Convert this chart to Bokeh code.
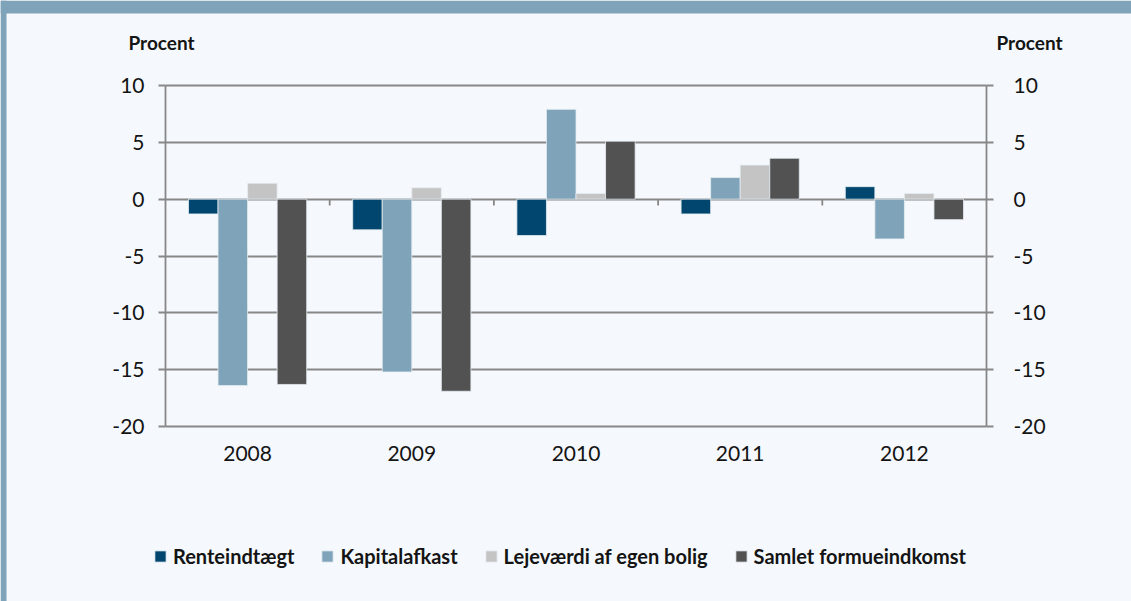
from bokeh.plotting import figure
from bokeh.models import (Range1d, LinearAxis, FixedTicker, Legend, LegendItem,
                          Label, BoxAnnotation, Grid)
from bokeh.embed import file_html
from bokeh.resources import INLINE

# ---- data ----
years = ["2008", "2009", "2010", "2011", "2012"]
renteindtaegt = [-1.3, -2.7, -3.2, -1.3, 1.1]
kapitalafkast = [-16.4, -15.2, 7.9, 1.9, -3.5]
lejevaerdi = [1.4, 1.0, 0.5, 3.0, 0.5]
samlet = [-16.3, -16.9, 5.1, 3.6, -1.8]
series_names = ["Renteindtægt", "Kapitalafkast", "Lejeværdi af egen bolig", "Samlet formueindkomst"]
y_ticks = [-20, -15, -10, -5, 0, 5, 10]
y_label = "Procent"

# ---- style / layout ----
colors = ["#00466e", "#7fa3b8", "#c4c4c4", "#525252"]
bg = "#f5f9fd"
band = "#7fa3b8"
axis_col = "#878787"
txt = "#141414"
font = "Lato"
offsets = [-0.27, -0.09, 0.09, 0.27]
bar_w = 0.18

W, H = 1131, 601
L, R, T, B = 165, 986, 85, 426          # data area in pixels
n = len(years)
ymin, ymax = min(y_ticks), max(y_ticks)
ppx = (R - L) / n
ppy = (B - T) / (ymax - ymin)
x0 = -L / ppx
x1 = n + (W - R) / ppx
y1 = ymax + T / ppy
y0 = ymin - (H - B) / ppy


def dx(px):
    return x0 + px / ppx


def dy(py):
    return y1 - py / ppy


p = figure(width=W, height=H, output_backend="svg", toolbar_location=None,
           x_range=Range1d(x0, x1), y_range=Range1d(y0, y1),
           x_axis_location=None, y_axis_location=None, min_border=0)
p.min_border_left = p.min_border_right = p.min_border_top = p.min_border_bottom = 0
p.background_fill_color = bg
p.border_fill_color = bg
p.outline_line_color = None
for g0 in list(p.xgrid) + list(p.ygrid):
    g0.visible = False

# frame band
p.add_layout(BoxAnnotation(left=dx(0), right=dx(W), top=dy(0), bottom=dy(13),
                           fill_color=band, fill_alpha=1, line_color=None, level="underlay"))
p.add_layout(BoxAnnotation(left=dx(0), right=dx(6), top=dy(0), bottom=dy(H),
                           fill_color=band, fill_alpha=1, line_color=None, level="underlay"))

# horizontal grid lines
if "cross_bounds" in Grid.properties():
    g = Grid(dimension=1, ticker=FixedTicker(ticks=y_ticks), bounds=(ymin, ymax),
             cross_bounds=(0, n), grid_line_color=axis_col, grid_line_width=1.8)
    p.add_layout(g)
else:
    p.segment(x0=[0] * len(y_ticks), y0=y_ticks, x1=[n] * len(y_ticks), y1=y_ticks,
              line_color=axis_col, line_width=1.8)

# category boundary ticks on zero line
bx = [float(k) for k in range(1, n)]
p.segment(x0=bx, y0=[0] * len(bx), x1=bx, y1=[-0.55] * len(bx),
          line_color=axis_col, line_width=1.8)

# bars
all_series = [renteindtaegt, kapitalafkast, lejevaerdi, samlet]
items = []
for j, (name, vals) in enumerate(zip(series_names, all_series)):
    xs = [i + 0.5 + offsets[j] for i in range(n)]
    r = p.vbar(x=xs, top=vals, bottom=0, width=bar_w, fill_color=colors[j],
               line_color="#e6edf3", line_width=0.8)
    items.append(LegendItem(label=name, renderers=[r]))

# x axis (category labels)
xa = LinearAxis(fixed_location=ymin, bounds=(0, n))
xa.ticker = FixedTicker(ticks=[i + 0.5 for i in range(n)])
xa.major_label_overrides = {i + 0.5: y for i, y in enumerate(years)}
xa.axis_line_color = None
xa.major_tick_line_color = None
xa.minor_tick_line_color = None
xa.major_label_standoff = 13
xa.major_label_text_font = font
xa.major_label_text_font_size = "21px"
xa.major_label_text_color = txt
p.add_layout(xa, "below")

# y axes
ya = LinearAxis(fixed_location=0, bounds=(ymin, ymax))
ra = LinearAxis(fixed_location=n, bounds=(ymin, ymax))
p.add_layout(ya, "left")
p.add_layout(ra, "right")
for ax, so in ((ya, 14), (ra, 20)):
    ax.ticker = FixedTicker(ticks=y_ticks)
    ax.major_label_overrides = {t: str(t) for t in y_ticks}
    ax.axis_line_color = axis_col
    ax.axis_line_width = 1.8
    ax.major_tick_line_color = axis_col
    ax.major_tick_line_width = 1.8
    ax.major_tick_out = 7
    ax.major_tick_in = 0
    ax.minor_tick_line_color = None
    ax.major_label_standoff = so
    ax.major_label_text_font = font
    ax.major_label_text_font_size = "21px"
    ax.major_label_text_color = txt

# axis titles
for xpos in (dx(128), dx(996)):
    p.add_layout(Label(x=xpos, y=dy(42), text=y_label, text_font=font,
                       text_font_size="19px", text_font_style="bold",
                       text_color=txt, text_baseline="middle"))

# legend
leg = Legend(items=items, location=(153, H - 557 - 11), orientation="horizontal",
             glyph_width=14, glyph_height=14, label_standoff=6, spacing=26,
             padding=0, margin=0, border_line_color=None,
             background_fill_alpha=0, label_text_font=font,
             label_text_font_size="20px", label_text_font_style="bold",
             label_text_color=txt, label_height=22)
p.add_layout(leg, "center")

open("out.html", "w").write(file_html(p, INLINE))
